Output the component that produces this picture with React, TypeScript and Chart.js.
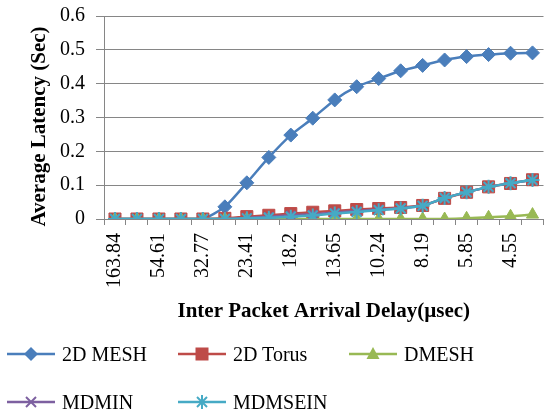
import React, { useEffect, useRef } from 'react';
import { Chart, registerables } from 'chart.js';
Chart.register(...registerables);

const categories = ['163.84', '81.92', '54.61', '40.96', '32.77', '27.31', '23.41', '20.48', '18.2', '16.38', '13.65', '11.7', '10.24', '9.1', '8.19', '6.83', '5.85', '5.12', '4.55', '4.1'];
const mesh2d = [0, 0, 0, 0, 0, 0.036, 0.107, 0.182, 0.248, 0.298, 0.352, 0.391, 0.415, 0.438, 0.454, 0.470, 0.480, 0.486, 0.490, 0.491];
const torus2d = [0, 0, 0, 0, 0, 0.002, 0.007, 0.011, 0.016, 0.020, 0.024, 0.028, 0.031, 0.034, 0.040, 0.061, 0.079, 0.095, 0.105, 0.116];
const dmesh = [0, 0, 0, 0, 0, 0, 0, 0, 0, 0, 0, 0, 0, 0, 0, 0, 0.002, 0.005, 0.008, 0.013];
const mdmin = [0, 0, 0, 0, 0, 0, 0.003, 0.007, 0.011, 0.014, 0.019, 0.024, 0.028, 0.032, 0.039, 0.062, 0.079, 0.095, 0.106, 0.115];
const mdmsein = [0, 0, 0, 0, 0, 0, 0.002, 0.004, 0.007, 0.010, 0.016, 0.021, 0.026, 0.031, 0.039, 0.062, 0.079, 0.095, 0.106, 0.115];
const yTicks = [0, 0.1, 0.2, 0.3, 0.4, 0.5, 0.6];

const seriesNames = ['2D MESH', '2D Torus', 'DMESH', 'MDMIN', 'MDMSEIN'];
const seriesData = [mesh2d, torus2d, dmesh, mdmin, mdmsein];
const colors = ['#4A7EBB', '#BE4B48', '#98B954', '#7D60A0', '#46AAC5'];
const pointStyles = ['rectRot', 'rect', 'triangle', 'crossRot', 'star'];
const pointRadii = [7, 8.5, 7, 6, 7];

const yTitle = 'Average Latency (Sec)';
const xTitle = 'Inter Packet Arrival Delay(µsec)';

const FONT = "'Liberation Serif', 'Times New Roman', Tinos";

const yTitlePlugin = {
  id: 'yTitleDraw',
  afterDraw(chart: any) {
    const ctx = chart.ctx;
    const area = chart.chartArea;
    ctx.save();
    ctx.translate(40, (area.top + area.bottom) / 2 + 9);
    ctx.rotate(-Math.PI / 2);
    ctx.font = `bold 21px ${FONT}`;
    ctx.textAlign = 'center';
    ctx.textBaseline = 'middle';
    ctx.fillStyle = '#000';
    ctx.fillText(yTitle, 0, 0);
    ctx.restore();
  },
};

function Marker({ i }: { i: number }) {
  const c = colors[i];
  const cx = 24, cy = 10;
  let m: React.ReactNode = null;
  if (i === 0) m = <polygon points={`${cx},${cy - 7} ${cx + 7},${cy} ${cx},${cy + 7} ${cx - 7},${cy}`} fill={c} />;
  if (i === 1) m = <rect x={cx - 6.5} y={cy - 6.5} width={13} height={13} fill={c} />;
  if (i === 2) m = <polygon points={`${cx},${cy - 7} ${cx + 6.5},${cy + 5} ${cx - 6.5},${cy + 5}`} fill={c} />;
  if (i === 3) m = <g stroke={c} strokeWidth={2}><line x1={cx - 5} y1={cy - 5} x2={cx + 5} y2={cy + 5} /><line x1={cx - 5} y1={cy + 5} x2={cx + 5} y2={cy - 5} /></g>;
  if (i === 4) m = <g stroke={c} strokeWidth={2}><line x1={cx - 5} y1={cy - 5} x2={cx + 5} y2={cy + 5} /><line x1={cx - 5} y1={cy + 5} x2={cx + 5} y2={cy - 5} /><line x1={cx} y1={cy - 7} x2={cx} y2={cy + 7} /></g>;
  return (
    <svg width={50} height={20} style={{ display: 'block' }}>
      <line x1={0} y1={cy} x2={48} y2={cy} stroke={c} strokeWidth={2.5} />
      {m}
    </svg>
  );
}

const legendPos = [
  { x: 7, y: 354 }, { x: 178, y: 354 }, { x: 349, y: 354 },
  { x: 7, y: 402 }, { x: 178, y: 402 },
];

export default function App() {
  const ref = useRef<HTMLCanvasElement>(null);
  useEffect(() => {
    document.body.style.margin = '0';
    let chart: Chart | null = null;
    let cancelled = false;
    const n = seriesNames.length;
    const build = () => {
      if (cancelled || !ref.current) return;
      chart = new Chart(ref.current, {
        type: 'line',
        data: {
          labels: categories,
          datasets: seriesNames.map((name, i) => ({
            label: name,
            data: seriesData[i],
            borderColor: colors[i],
            backgroundColor: colors[i],
            pointBackgroundColor: colors[i],
            pointBorderColor: colors[i],
            pointBorderWidth: i >= 3 ? 2 : 1,
            pointStyle: pointStyles[i] as any,
            pointRadius: pointRadii[i],
            borderWidth: 2.5,
            tension: 0.2,
            order: n - 1 - i,
          })),
        },
        plugins: [yTitlePlugin],
        options: {
          responsive: false,
          animation: false,
          layout: { padding: { left: 0, top: 16, right: 5, bottom: 0 } },
          plugins: { legend: { display: false }, tooltip: { enabled: false } },
          scales: {
            x: {
              offset: true,
              afterFit: (s: any) => {
                s.height = 198;
                s.paddingLeft = 0;
                s.paddingRight = 0;
              },
              grid: { offset: true, drawOnChartArea: false, tickLength: 6, color: '#868686' },
              border: { color: '#868686' },
              ticks: {
                autoSkip: false,
                maxRotation: 90,
                minRotation: 90,
                padding: 8,
                color: '#000',
                font: { family: FONT, size: 20 },
                callback: (_v: any, i: number) => (i % 2 === 0 ? categories[i] : ''),
              },
              title: {
                display: true,
                text: xTitle,
                color: '#000',
                font: { family: FONT, size: 21, weight: 'bold' },
                padding: { top: 0, bottom: 93 },
              },
            },
            y: {
              min: yTicks[0],
              max: yTicks[yTicks.length - 1],
              afterFit: (s: any) => {
                s.width = 104;
                s.paddingTop = 0;
                s.paddingBottom = 0;
              },
              grid: { color: '#868686', tickLength: 8 },
              border: { color: '#868686' },
              ticks: {
                stepSize: 0.1,
                padding: 11,
                color: '#000',
                font: { family: FONT, size: 20 },
                callback: (v: any) => (Number(v) === 0 ? '0' : Number(v).toFixed(1)),
              },
              title: { display: false },
            },
          },
        },
      });
    };
    const fonts: any = (document as any).fonts;
    if (fonts && fonts.load) {
      Promise.all([
        fonts.load("20px 'Liberation Serif'"),
        fonts.load("bold 21px 'Liberation Serif'"),
      ]).then(build, build);
    } else {
      build();
    }
    return () => {
      cancelled = true;
      if (chart) chart.destroy();
    };
  }, []);

  return (
    <div style={{ position: 'relative', width: 553, height: 417, background: '#fff', overflow: 'hidden' }}>
      <canvas ref={ref} width={553} height={417} style={{ display: 'block' }} />
      {seriesNames.map((name, i) => (
        <div key={name} style={{ position: 'absolute', left: legendPos[i].x, top: legendPos[i].y - 12, height: 24, display: 'flex', alignItems: 'center', fontFamily: FONT, fontSize: 20, color: '#000', whiteSpace: 'nowrap' }}>
          <Marker i={i} />
          <span style={{ marginLeft: 5 }}>{name}</span>
        </div>
      ))}
    </div>
  );
}
